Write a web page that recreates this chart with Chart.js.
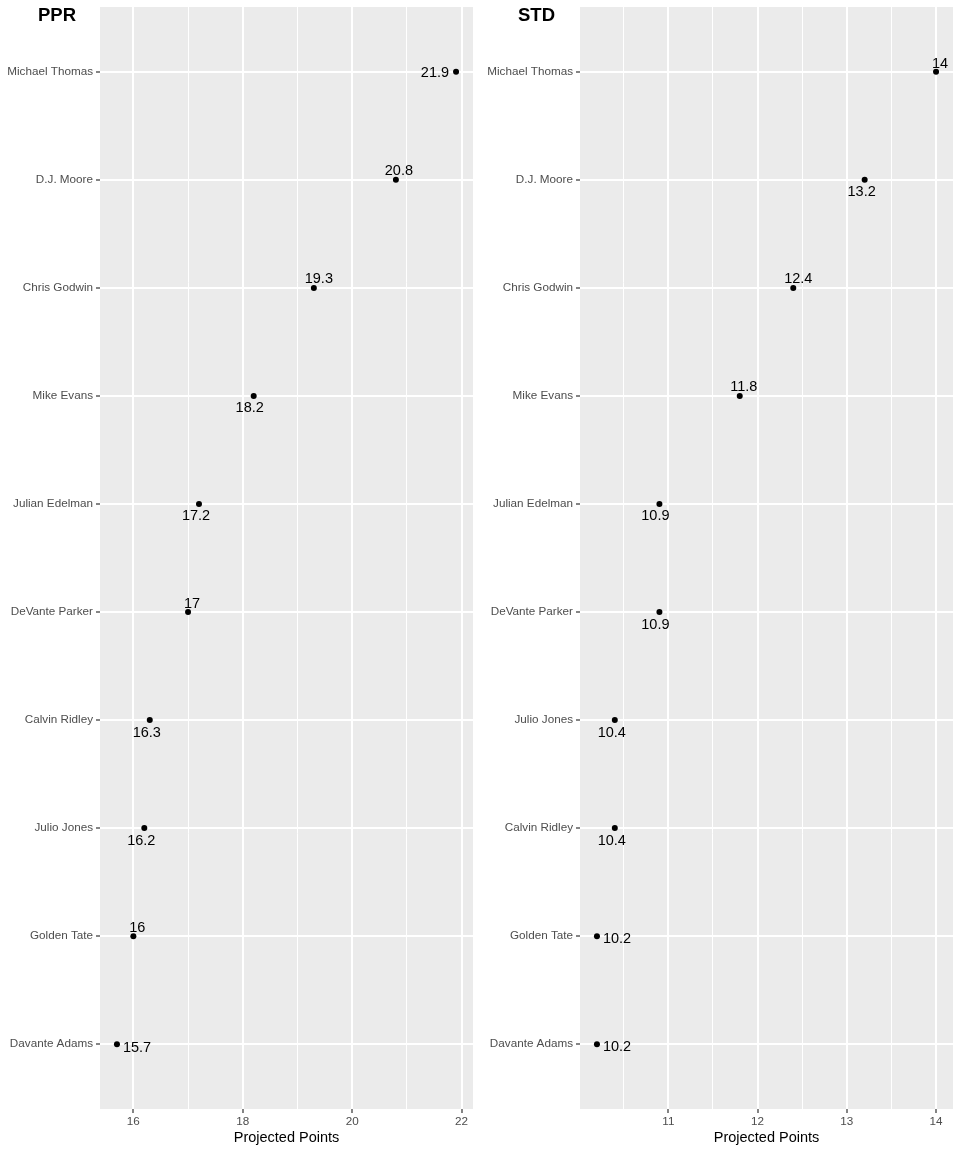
<!DOCTYPE html>
<html><head><meta charset="utf-8">
<script src="https://cdn.jsdelivr.net/npm/chart.js@4.4.1/dist/chart.umd.min.js"></script>
<style>
html,body{margin:0;padding:0;background:#fff;}
#wrap{display:flex;width:960px;height:1152px;}
.panel{position:relative;width:480px;height:1152px;}
canvas{display:block;}
</style></head><body>
<div id="wrap">
<div class="panel"><canvas id="ppr" width="480" height="1152"></canvas></div>
<div class="panel"><canvas id="std" width="480" height="1152"></canvas></div>
</div>
<script>
// ---- data ----
const pprPlayers = ['Michael Thomas','D.J. Moore','Chris Godwin','Mike Evans','Julian Edelman','DeVante Parker','Calvin Ridley','Julio Jones','Golden Tate','Davante Adams'];
const pprPoints = [21.9, 20.8, 19.3, 18.2, 17.2, 17.0, 16.3, 16.2, 16.0, 15.7];
const pprXTicks = [16, 18, 20, 22];

const stdPlayers = ['Michael Thomas','D.J. Moore','Chris Godwin','Mike Evans','Julian Edelman','DeVante Parker','Julio Jones','Calvin Ridley','Golden Tate','Davante Adams'];
const stdPoints = [14.0, 13.2, 12.4, 11.8, 10.9, 10.9, 10.4, 10.4, 10.2, 10.2];
const stdXTicks = [11, 12, 13, 14];

const xTitle = 'Projected Points';

// ---- label placement (style only) ----
const pprLabelAlign = ['right','center','center','center','center','center','center','center','center','left'];
const pprLabelDx = [-7, 3, 5, -4, -3, 4, -3, -3, 4, 6];
const pprLabelDy = [5, -4.5, -4.5, 16.5, 16.5, -4.5, 16.5, 16.5, -4.5, 8];
const stdLabelAlign = ['center','center','center','center','center','center','center','center','left','left'];
const stdLabelDx = [4, -3, 5, 4, -4, -4, -3, -3, 6, 6];
const stdLabelDy = [-3.5, 16.5, -4.5, -4.5, 16.5, 16.5, 16.5, 16.5, 6.5, 6.5];

const FONT = '"Liberation Sans", Arial, Helvetica, sans-serif';

function fmt(v){ return String(Math.round(v*10)/10); }

function makeChart(id, title, players, points, majors, lAlign, lDx, lDy){
  const dmin = Math.min(...points), dmax = Math.max(...points);
  const pad = (dmax - dmin) * 0.05;
  const xmin = dmin - pad, xmax = dmax + pad;
  const step = majors[1] - majors[0];
  const all = [];
  for (let v = majors[0] - step; v <= majors[majors.length-1] + step + 1e-9; v += step/2) {
    if (v >= xmin && v <= xmax) all.push(Math.round(v*1000)/1000);
  }
  const isMajor = v => majors.some(m => Math.abs(m - v) < 1e-6);

  const plugin = {
    id: 'gg_' + id,
    beforeDraw(chart){
      const {ctx, chartArea: a} = chart;
      ctx.save();
      ctx.fillStyle = '#EBEBEB';
      ctx.fillRect(a.left, a.top, a.right - a.left, a.bottom - a.top);
      ctx.restore();
    },
    afterDatasetsDraw(chart){
      const {ctx} = chart;
      const xs = chart.scales.x, ys = chart.scales.y;
      ctx.save();
      ctx.fillStyle = '#000';
      ctx.font = '14.5px ' + FONT;
      ctx.textBaseline = 'alphabetic';
      points.forEach((v, i) => {
        const px = xs.getPixelForValue(v), py = ys.getPixelForValue(i);
        ctx.textAlign = lAlign[i];
        ctx.fillText(fmt(v), px + lDx[i], py + lDy[i]);
      });
      ctx.font = 'bold 18.5px ' + FONT;
      ctx.textAlign = 'left';
      ctx.fillText(title, 38, 21);
      ctx.restore();
    }
  };

  return new Chart(document.getElementById(id), {
    type: 'scatter',
    data: {
      datasets: [{
        data: points.map((v, i) => ({x: v, y: i})),
        pointRadius: 3,
        pointHoverRadius: 3,
        pointBackgroundColor: '#000',
        pointBorderWidth: 0,
        showLine: false
      }]
    },
    options: {
      responsive: false,
      animation: false,
      devicePixelRatio: 1,
      layout: {padding: {top: 7, right: 7, left: 0, bottom: 0}},
      plugins: {legend: {display: false}, tooltip: {enabled: false}},
      scales: {
        x: {
          type: 'linear',
          min: xmin, max: xmax,
          afterBuildTicks(s){ s.ticks = all.map(v => ({value: v})); },
          afterFit(s){ s.height = 43; s.paddingLeft = 0; s.paddingRight = 0; },
          border: {display: false},
          grid: {
            color: '#FFFFFF',
            lineWidth: c => isMajor(c.tick.value) ? 2 : 1,
            tickColor: c => isMajor(c.tick.value) ? '#333333' : 'rgba(0,0,0,0)',
            tickLength: 4,
            tickWidth: 1.2
          },
          ticks: {
            autoSkip: false,
            maxRotation: 0,
            padding: 2,
            color: '#4D4D4D',
            font: {family: FONT, size: 11.7},
            callback: v => isMajor(v) ? String(v) : ''
          },
          title: {
            display: true, text: xTitle, color: '#000',
            font: {family: FONT, size: 14.5},
            padding: {top: 0, bottom: 5}
          }
        },
        y: {
          type: 'linear',
          reverse: true,
          min: -0.6, max: players.length - 1 + 0.6,
          afterBuildTicks(s){ s.ticks = players.map((p, i) => ({value: i})); },
          afterFit(s){ s.width = 100; s.paddingTop = 0; s.paddingBottom = 0; },
          border: {display: false},
          grid: {
            color: '#FFFFFF', lineWidth: 2,
            tickColor: '#333333', tickLength: 4, tickWidth: 1.2
          },
          ticks: {
            autoSkip: false,
            padding: 3,
            color: '#4D4D4D',
            font: {family: FONT, size: 11.7},
            callback: v => players[v] !== undefined ? players[v] : ''
          }
        }
      }
    },
    plugins: [plugin]
  });
}

makeChart('ppr', 'PPR', pprPlayers, pprPoints, pprXTicks, pprLabelAlign, pprLabelDx, pprLabelDy);
makeChart('std', 'STD', stdPlayers, stdPoints, stdXTicks, stdLabelAlign, stdLabelDx, stdLabelDy);
</script>
</body></html>
